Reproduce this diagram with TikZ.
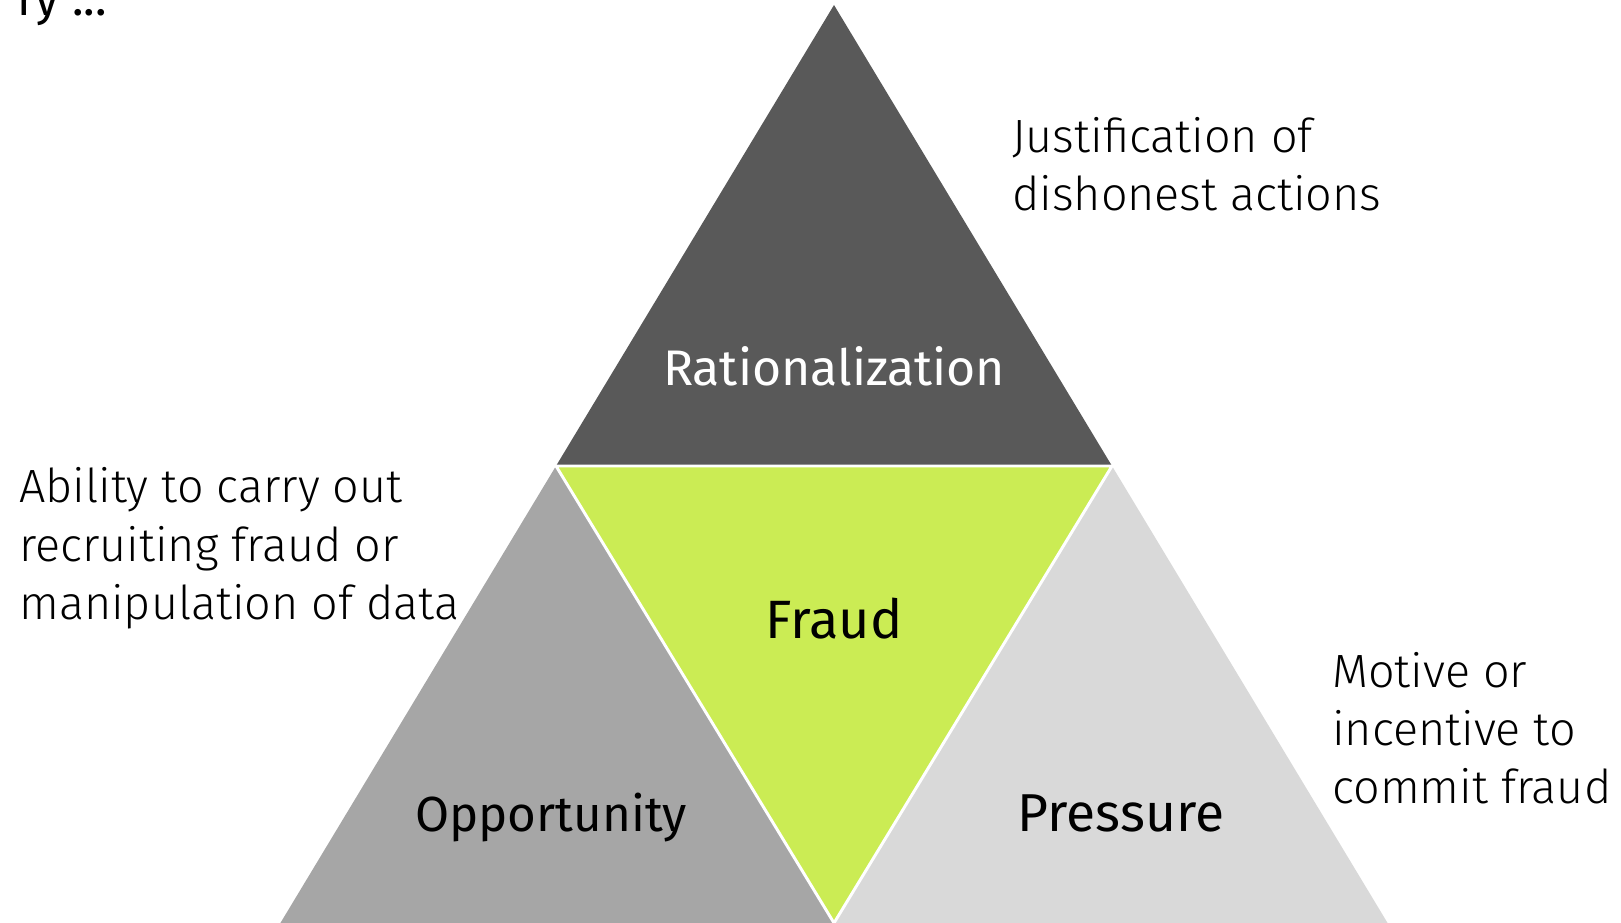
\documentclass[tikz,border=0pt]{standalone}
\usepackage{fontspec}
\setmainfont{Fira Sans}
\newfontfamily\lightfont{Fira Sans Light}
\definecolor{topgray}{HTML}{595959}
\definecolor{leftgray}{HTML}{A6A6A6}
\definecolor{rightgray}{HTML}{D9D9D9}
\definecolor{fraudgreen}{HTML}{CBEC54}
\tikzset{
  desc/.style={anchor=base west, inner sep=0pt, font=\lightfont\fontsize{35}{44}\selectfont, text=black},
  lbl/.style={anchor=base, inner sep=0pt},
  sep/.style={draw=white, line width=2.2pt, line join=miter}
}
\begin{document}
\begin{tikzpicture}[x=0.75pt,y=-0.75pt]
\useasboundingbox (0,0) rectangle (1621,923);
\coordinate (T) at (834,5);
\coordinate (L) at (556,466);
\coordinate (R) at (1112,466);
\coordinate (B) at (834,923);
\coordinate (BL) at (278,927);
\coordinate (BR) at (1390,927);
\fill[topgray] (T) -- (L) -- (R) -- cycle;
\fill[leftgray] (L) -- (BL) -- (B) -- cycle;
\fill[rightgray] (R) -- (B) -- (BR) -- cycle;
\fill[fraudgreen] (L) -- (R) -- (B) -- cycle;
\draw[sep] (L) -- (R) -- (B) -- cycle;
\node[lbl, text=white, font=\fontsize{37.5}{45}\selectfont] (rat) at (834,386) {Rationalization};
\node[lbl, text=black, font=\fontsize{40.5}{48}\selectfont] (fraud) at (834,638) {Fraud};
\node[lbl, text=black, font=\fontsize{37}{45}\selectfont] (opp) at (551,831) {Opportunity};
\node[lbl, text=black, font=\fontsize{40}{48}\selectfont] (press) at (1121,831) {Pressure};
\node[desc] (j1) at (1012,153) {Justification of};
\node[desc] (j2) at (1012,211) {dishonest actions};
\node[desc] (a1) at (19,503) {Ability to carry out};
\node[desc] (a2) at (19,561) {recruiting fraud or};
\node[desc] (a3) at (19,619) {manipulation of data};
\node[desc] (m1) at (1332,687) {Motive or};
\node[desc] (m2) at (1332,745) {incentive to};
\node[desc] (m3) at (1332,803) {commit fraud};
\node[desc, font=\fontsize{36}{44}\selectfont] (ry) at (17,16) {ry ...};
\end{tikzpicture}
\end{document}
